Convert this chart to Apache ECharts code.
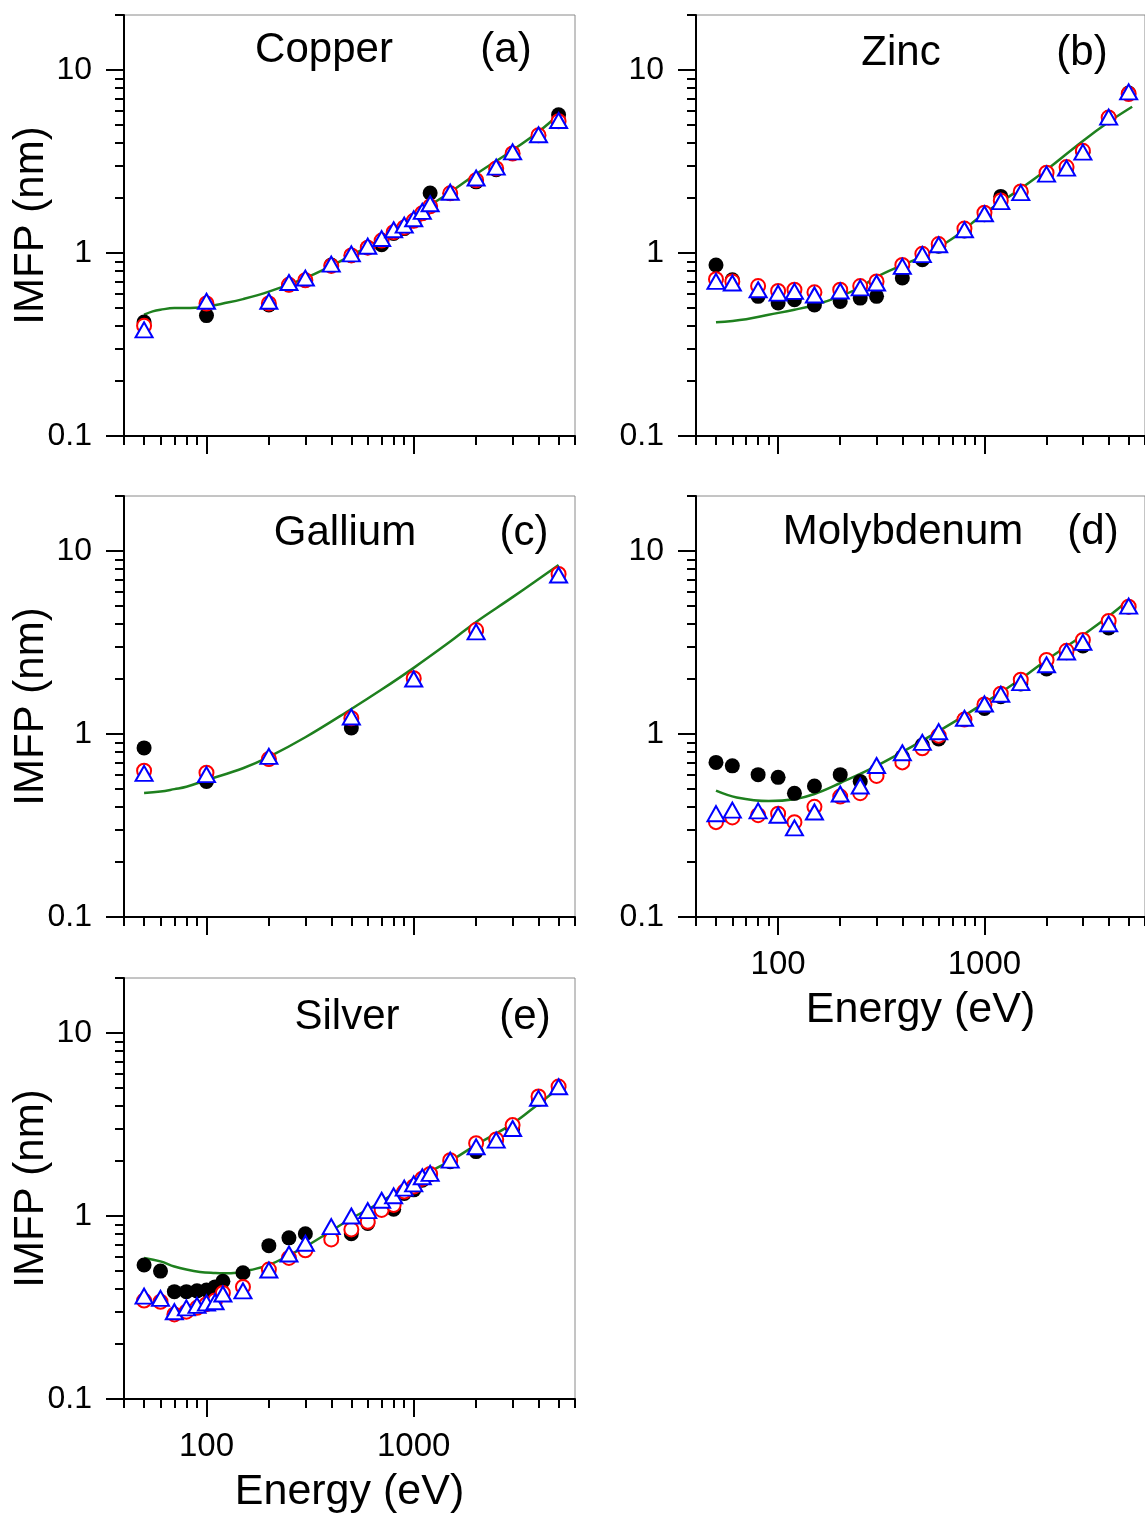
<!DOCTYPE html>
<html><head><meta charset="utf-8">
<script src="https://cdn.jsdelivr.net/npm/echarts@6/dist/echarts.min.js"></script>
<style>html,body{margin:0;padding:0;background:#fff}#c{width:1145px;height:1515px}</style>
</head><body><div id="c"></div>
<script>
// ---------------- DATA ----------------
const xMajorTicks = [100, 1000];
const xMinorTicks = [40, 50, 60, 70, 80, 90, 200, 300, 400, 500, 600, 700, 800, 900, 2000, 3000, 4000, 5000, 6000];
const yMajorTicks = [0.1, 1, 10];
const yMinorTicks = [0.2, 0.3, 0.4, 0.5, 0.6, 0.7, 0.8, 0.9, 2, 3, 4, 5, 6, 7, 8, 9, 20];
const xTickLabels = ['100', '1000'];
const yTickLabels = ['0.1', '1', '10'];
const panelNames = ['Copper', 'Zinc', 'Gallium', 'Molybdenum', 'Silver'];
const panelTags = ['(a)', '(b)', '(c)', '(d)', '(e)'];
const yAxisTitle = 'IMFP (nm)';
const xAxisTitle = 'Energy (eV)';

// Copper
const cuE     = [50, 100, 200, 250, 300, 400, 500, 600, 700, 800, 900, 1000, 1100, 1200, 1500, 2000, 2500, 3000, 4000, 5000];
const cuBlack = [0.42, 0.455, 0.52, 0.67, 0.71, 0.86, 0.97, 1.07, 1.11, 1.28, 1.36, 1.5, 1.65, 2.13, 2.12, 2.45, 2.85, 3.5, 4.4, 5.7];
const cuRed   = [0.40, 0.53, 0.53, 0.67, 0.71, 0.85, 0.97, 1.07, 1.17, 1.30, 1.38, 1.5, 1.65, 1.80, 2.12, 2.50, 2.90, 3.5, 4.4, 5.25];
const cuBlue  = [0.38, 0.545, 0.545, 0.69, 0.73, 0.87, 0.99, 1.09, 1.20, 1.34, 1.42, 1.54, 1.69, 1.86, 2.15, 2.57, 2.95, 3.57, 4.43, 5.3];
const cuLineE = [50, 55, 60, 70, 80, 100, 120, 150, 200, 300, 400, 500, 700, 1000, 1500, 2000, 3000, 4000, 5000];
const cuLineY = [0.46, 0.48, 0.49, 0.50, 0.50, 0.51, 0.53, 0.56, 0.615, 0.73, 0.85, 0.97, 1.2, 1.6, 2.15, 2.7, 3.65, 4.6, 5.7];

// Zinc
const znE     = [50, 60, 80, 100, 120, 150, 200, 250, 300, 400, 500, 600, 800, 1000, 1200, 1500, 2000, 2500, 3000, 4000, 5000];
const znBlack = [0.86, 0.715, 0.58, 0.533, 0.556, 0.52, 0.544, 0.567, 0.58, 0.73, 0.92, 1.09, 1.32, 1.62, 2.04, 2.14, 2.70, 2.9, 3.55, 5.5, 7.5];
const znRed   = [0.72, 0.70, 0.66, 0.62, 0.63, 0.61, 0.63, 0.66, 0.70, 0.86, 0.99, 1.12, 1.36, 1.66, 1.94, 2.17, 2.75, 2.95, 3.62, 5.5, 7.4];
const znBlue  = [0.70, 0.686, 0.63, 0.604, 0.617, 0.59, 0.62, 0.645, 0.686, 0.845, 0.98, 1.11, 1.34, 1.64, 1.91, 2.14, 2.70, 2.91, 3.56, 5.53, 7.6];
const znLineE = [50, 70, 90, 120, 150, 200, 250, 300, 400, 500, 700, 1000, 1500, 2000, 3000, 4000, 5200];
const znLineY = [0.418, 0.435, 0.46, 0.49, 0.52, 0.58, 0.65, 0.74, 0.86, 0.96, 1.2, 1.65, 2.25, 2.85, 4.1, 5.2, 6.3];

// Gallium
const gaE     = [50, 100, 200, 500, 1000, 2000, 5000];
const gaBlack = [0.84, 0.55, 0.73, 1.08, 2.0, 3.65, 7.45];
const gaRed   = [0.63, 0.615, 0.73, 1.22, 2.02, 3.7, 7.5];
const gaBlue  = [0.61, 0.60, 0.755, 1.24, 2.0, 3.62, 7.4];
const gaLineE = [50, 60, 70, 80, 100, 150, 200, 300, 500, 700, 1000, 1500, 2000, 3000, 5000];
const gaLineY = [0.476, 0.485, 0.5, 0.515, 0.56, 0.65, 0.75, 0.96, 1.37, 1.75, 2.3, 3.2, 4.1, 5.6, 8.4];

// Molybdenum
const moE     = [50, 60, 80, 100, 120, 150, 200, 250, 300, 400, 500, 600, 800, 1000, 1200, 1500, 2000, 2500, 3000, 4000, 5000];
const moBlack = [0.70, 0.67, 0.60, 0.58, 0.474, 0.52, 0.60, 0.55, 0.63, 0.75, 0.87, 0.94, 1.2, 1.38, 1.60, 1.88, 2.27, 2.78, 3.03, 3.8, 4.95];
const moRed   = [0.33, 0.35, 0.36, 0.367, 0.33, 0.40, 0.455, 0.475, 0.59, 0.70, 0.835, 0.98, 1.2, 1.45, 1.66, 1.98, 2.54, 2.85, 3.27, 4.15, 4.97];
const moBlue  = [0.367, 0.384, 0.38, 0.36, 0.307, 0.375, 0.47, 0.52, 0.673, 0.79, 0.90, 1.03, 1.22, 1.46, 1.65, 1.91, 2.39, 2.81, 3.17, 4.0, 5.0];
const moLineE = [50, 63, 90, 120, 150, 200, 300, 500, 700, 1000, 1500, 2000, 3000, 4000, 5000];
const moLineY = [0.49, 0.45, 0.43, 0.44, 0.47, 0.54, 0.67, 0.92, 1.15, 1.48, 2.0, 2.54, 3.47, 4.4, 5.4];

// Silver
const agE     = [50, 60, 70, 80, 90, 100, 110, 120, 150, 200, 250, 300, 400, 500, 600, 700, 800, 900, 1000, 1100, 1200, 1500, 2000, 2500, 3000, 4000, 5000];
const agBlack = [0.54, 0.50, 0.386, 0.386, 0.39, 0.394, 0.41, 0.44, 0.49, 0.689, 0.76, 0.80, 0.76, 0.80, 0.91, 1.1, 1.09, 1.33, 1.39, 1.57, 1.68, 1.98, 2.25, 2.6, 3.0, 4.35, 5.05];
const agRed   = [0.345, 0.34, 0.29, 0.30, 0.315, 0.33, 0.345, 0.38, 0.41, 0.51, 0.59, 0.65, 0.745, 0.845, 0.93, 1.08, 1.15, 1.36, 1.45, 1.6, 1.7, 2.02, 2.5, 2.62, 3.14, 4.5, 5.1];
const agBlue  = [0.365, 0.355, 0.30, 0.315, 0.325, 0.335, 0.34, 0.375, 0.39, 0.507, 0.62, 0.71, 0.875, 1.0, 1.07, 1.22, 1.29, 1.42, 1.5, 1.64, 1.71, 2.02, 2.39, 2.6, 3.01, 4.4, 5.09];
const agLineE = [50, 60, 70, 80, 93, 110, 121, 140, 163, 200, 250, 300, 400, 500, 700, 1000, 1500, 2000, 3000, 4000, 5000];
const agLineY = [0.59, 0.565, 0.53, 0.51, 0.495, 0.488, 0.486, 0.49, 0.507, 0.54, 0.61, 0.68, 0.83, 0.97, 1.2, 1.57, 2.0, 2.45, 3.2, 4.1, 5.0];

// ---------------- LAYOUT ----------------
const panelData = [
  {E: cuE, K: cuBlack, R: cuRed, B: cuBlue, LE: cuLineE, LY: cuLineY},
  {E: znE, K: znBlack, R: znRed, B: znBlue, LE: znLineE, LY: znLineY},
  {E: gaE, K: gaBlack, R: gaRed, B: gaBlue, LE: gaLineE, LY: gaLineY},
  {E: moE, K: moBlack, R: moRed, B: moBlue, LE: moLineE, LY: moLineY},
  {E: agE, K: agBlack, R: agRed, B: agBlue, LE: agLineE, LY: agLineY}
];
const layout = [
  {left: 124, top: 15,  yName: true,  xLabels: false, nameX: 324, tagX: 506, textY: 50},
  {left: 696, top: 15,  yName: false, xLabels: false, nameX: 901, tagX: 1082, textY: 53},
  {left: 124, top: 496, yName: true,  xLabels: false, nameX: 345, tagX: 524, textY: 533},
  {left: 696, top: 496, yName: false, xLabels: true,  nameX: 903, tagX: 1093, textY: 532},
  {left: 124, top: 978, yName: true,  xLabels: true,  nameX: 347, tagX: 525, textY: 1017}
];
const GW = 451, GH = 421;
const FONT = 'Liberation Sans, Arial, sans-serif';

function lookup(v, ticks, labels) {
  for (let i = 0; i < ticks.length; i++) {
    if (Math.abs(Math.log10(v) - Math.log10(ticks[i])) < 1e-6) return labels[i];
  }
  return '';
}
const zip = (a, b) => a.map((v, i) => [v, b[i]]);

const grids = [], xAxes = [], yAxes = [], series = [], graphics = [];
layout.forEach((L, i) => {
  grids.push({left: L.left, top: L.top, width: GW, height: GH, show: true,
    borderColor: '#8a8a8a', borderWidth: 1, backgroundColor: 'transparent'});
  const lineSt = {color: '#000', width: 2};
  xAxes.push({type: 'log', logBase: 10, gridIndex: i, position: 'bottom', min: 40, max: 6000,
    axisLine: {show: true, onZero: false, lineStyle: lineSt},
    axisTick: {show: true, length: 18, customValues: xMajorTicks, lineStyle: lineSt},
    axisLabel: {show: L.xLabels, customValues: xMajorTicks, fontSize: 33, color: '#000', fontFamily: FONT, margin: 31,
      formatter: v => lookup(v, xMajorTicks, xTickLabels)},
    splitLine: {show: false}, minorTick: {show: false},
    name: L.xLabels ? xAxisTitle : '', nameLocation: 'middle', nameGap: 72, nameMoveOverlap: false,
    nameTextStyle: {fontSize: 43, color: '#000', fontFamily: FONT}
  });
  yAxes.push({type: 'log', logBase: 10, gridIndex: i, position: 'left', min: 0.1, max: 20,
    axisLine: {show: true, onZero: false, lineStyle: lineSt},
    axisTick: {show: true, length: 18, customValues: yMajorTicks, lineStyle: lineSt},
    axisLabel: {show: true, customValues: yMajorTicks, fontSize: 32, color: '#000', fontFamily: FONT, margin: 32,
      formatter: v => lookup(v, yMajorTicks, yTickLabels)},
    splitLine: {show: false},
    name: L.yName ? yAxisTitle : '', nameLocation: 'middle', nameGap: 72, nameRotate: 90, nameMoveOverlap: false,
    nameTextStyle: {fontSize: 42, color: '#000', fontFamily: FONT}
  });
});
layout.forEach((L, i) => {
  const lineSt = {color: '#000', width: 2};
  xAxes.push({type: 'log', logBase: 10, gridIndex: i, position: 'bottom', min: 40, max: 6000,
    axisLine: {show: false}, axisLabel: {show: false}, splitLine: {show: false},
    axisTick: {show: true, length: 9, customValues: xMinorTicks, lineStyle: lineSt}});
  yAxes.push({type: 'log', logBase: 10, gridIndex: i, position: 'left', min: 0.1, max: 20,
    axisLine: {show: false}, axisLabel: {show: false}, splitLine: {show: false},
    axisTick: {show: true, length: 9, customValues: yMinorTicks, lineStyle: lineSt}});
});
panelData.forEach((P, i) => {
  series.push({type: 'line', xAxisIndex: i, yAxisIndex: i, data: zip(P.LE, P.LY), smooth: 0.4,
    showSymbol: false, lineStyle: {color: '#1e801e', width: 2.5}, z: 1, silent: true});
  series.push({type: 'scatter', xAxisIndex: i, yAxisIndex: i, data: zip(P.E, P.K), symbol: 'circle',
    symbolSize: 15, itemStyle: {color: '#000', opacity: 1}, z: 2});
  series.push({type: 'scatter', xAxisIndex: i, yAxisIndex: i, data: zip(P.E, P.R), symbol: 'circle',
    symbolSize: 14, itemStyle: {color: '#fff', borderColor: '#ff0000', borderWidth: 2, opacity: 1}, z: 3});
  series.push({type: 'scatter', xAxisIndex: i, yAxisIndex: i, data: zip(P.E, P.B), symbol: 'triangle',
    symbolSize: [17, 15], itemStyle: {color: '#fff', borderColor: '#0000ff', borderWidth: 2, opacity: 1}, z: 4});
  const L = layout[i];
  graphics.push({type: 'text', x: L.nameX, y: L.textY, z: 10,
    style: {text: panelNames[i], fontSize: 42, fontFamily: FONT, fill: '#000', align: 'center', verticalAlign: 'middle'}});
  graphics.push({type: 'text', x: L.tagX, y: L.textY, z: 10,
    style: {text: panelTags[i], fontSize: 42, fontFamily: FONT, fill: '#000', align: 'center', verticalAlign: 'middle'}});
});

const chart = echarts.init(document.getElementById('c'), null, {renderer: 'canvas'});
chart.setOption({
  animation: false,
  backgroundColor: '#fff',
  grid: grids, xAxis: xAxes, yAxis: yAxes, series: series, graphic: graphics
});
</script></body></html>
